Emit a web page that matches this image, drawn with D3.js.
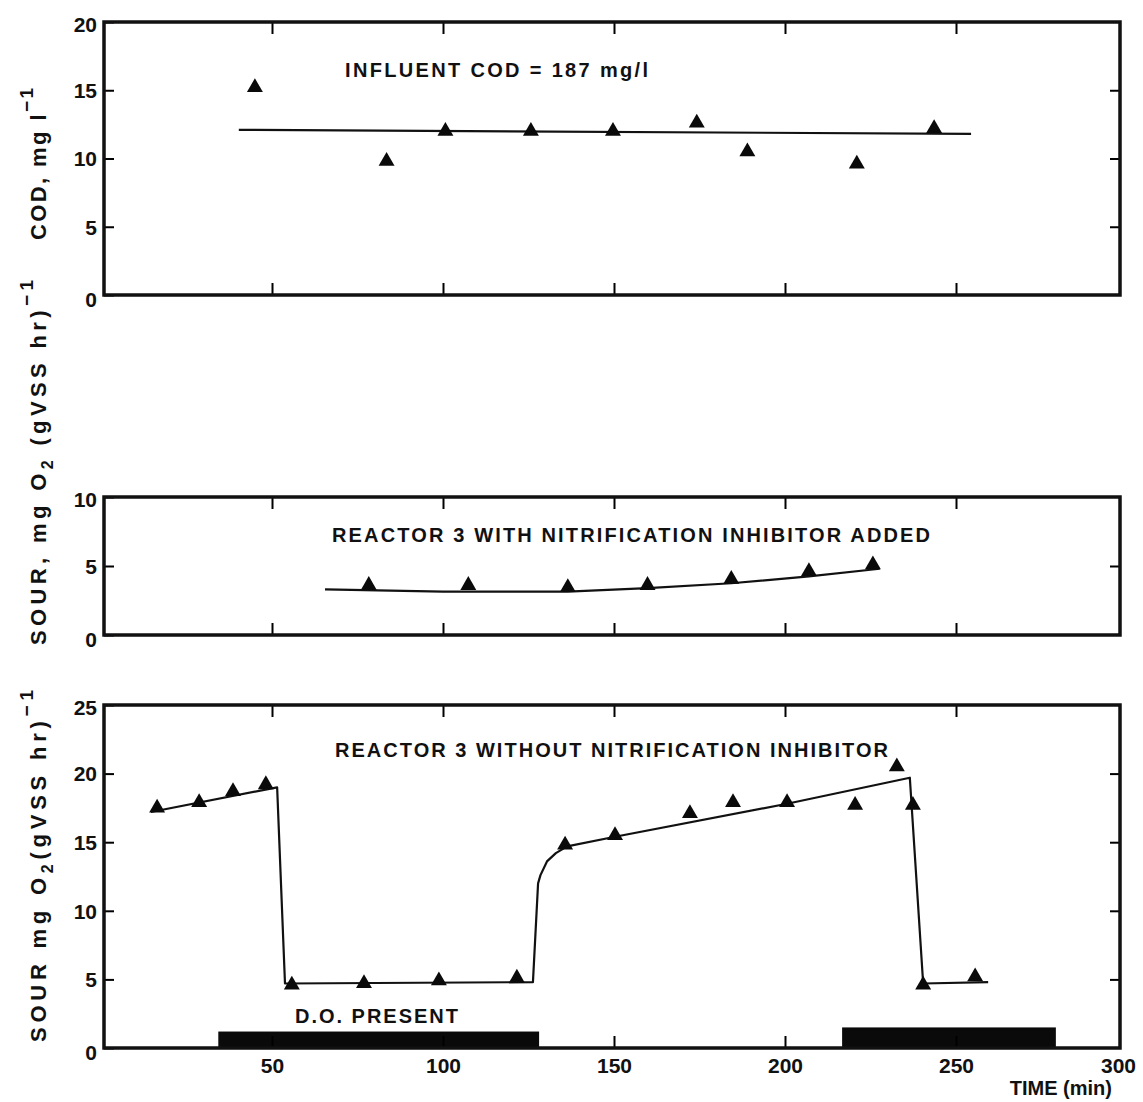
<!DOCTYPE html>
<html>
<head>
<meta charset="utf-8">
<script src="https://cdn.jsdelivr.net/npm/d3@7"></script>
<style>
  body { margin: 0; background: #fff; }
  svg text { font-family: "Liberation Sans", Arial, Helvetica, sans-serif; font-weight: bold; fill: #111; }
</style>
</head>
<body>
<svg id="chart" width="1143" height="1102"></svg>
<script>
// time axis (min)
var timeTicks = [50, 100, 150, 200, 250, 300];

// top panel: effluent COD, mg/l (influent 187 mg/l)
var codTime  = [45.0, 83.5, 100.7, 125.7, 149.7, 174.2, 189.0, 221.0, 243.6];
var codValue = [15.2, 9.8, 12.0, 12.0, 12.0, 12.6, 10.5, 9.6, 12.2];
var codFitTime  = [40.3, 254.4];
var codFitValue = [12.1, 11.8];

// middle panel: SOUR, reactor 3 with nitrification inhibitor
var inhTime  = [78.3, 107.4, 136.5, 159.8, 184.3, 207.0, 225.7];
var inhValue = [3.6, 3.6, 3.45, 3.6, 4.05, 4.6, 5.1];
var inhFitTime  = [65.5, 100, 136.5, 159.8, 184.3, 207.0, 227.7];
var inhFitValue = [3.3, 3.15, 3.15, 3.4, 3.75, 4.25, 4.8];

// bottom panel: SOUR, reactor 3 without inhibitor
var noInhTime  = [16.4, 28.7, 38.6, 48.2, 55.8, 76.9, 98.8, 121.6, 135.7, 150.3, 172.2, 184.8, 200.6, 220.5, 232.7, 237.4, 240.4, 255.6];
var noInhValue = [17.5, 17.9, 18.7, 19.2, 4.6, 4.7, 4.9, 5.1, 14.8, 15.5, 17.1, 17.9, 17.9, 17.7, 20.5, 17.7, 4.6, 5.2];
var noInhFitTime  = [14.6, 51.5, 53.8, 126.3, 127.8, 128.5, 130.4, 133.0, 136.3, 150.3, 200.6, 236.5, 240.4, 259.4];
var noInhFitValue = [17.2, 19.0, 4.7, 4.8, 12.0, 12.6, 13.6, 14.2, 14.7, 15.4, 17.8, 19.7, 4.7, 4.8];

// periods with D.O. present (black bars)
var doStart = [34.3, 216.7];
var doEnd   = [128.1, 279.2];
var doLevel = [1.2, 1.5];

function zip(a, b) { return a.map(function(v, i) { return [v, b[i]]; }); }

var svg = d3.select("#chart");
var left = 104, right = 1120;

var x = d3.scaleLinear().domain([0, 300]).range([101, 1127]);

var panels = [
  {top: 22, bottom: 295, max: 20, yTicks: [0, 5, 10, 15, 20], pts: zip(codTime, codValue), fit: zip(codFitTime, codFitValue)},
  {top: 497, bottom: 635, max: 10, yTicks: [0, 5, 10], pts: zip(inhTime, inhValue), fit: zip(inhFitTime, inhFitValue)},
  {top: 705, bottom: 1048, max: 25, yTicks: [0, 5, 10, 15, 20, 25], pts: zip(noInhTime, noInhValue), fit: zip(noInhFitTime, noInhFitValue), labels: true}
];

panels.forEach(function(p) {
  var y = d3.scaleLinear().domain([0, p.max]).range([p.bottom, p.top]);
  var g = svg.append("g");

  // D.O. bars sit under the frame line
  if (p.labels) {
    g.selectAll("rect.do")
      .data(doStart.map(function(s, i) { return {s: s, e: doEnd[i], h: doLevel[i]}; }))
      .enter().append("rect")
      .attr("class", "do")
      .attr("x", function(d) { return x(d.s); })
      .attr("width", function(d) { return x(d.e) - x(d.s); })
      .attr("y", function(d) { return y(d.h); })
      .attr("height", function(d) { return y(0) - y(d.h); })
      .attr("fill", "#0a0a0a");
  }

  // left axis with inward ticks
  var ya = g.append("g")
    .attr("transform", "translate(" + left + ",0)")
    .call(d3.axisLeft(y).tickValues(p.yTicks).tickSize(-10).tickPadding(7));
  ya.select(".domain").remove();
  ya.selectAll("line").attr("stroke-width", 2);
  ya.selectAll("text")
    .attr("font-size", 21)
    .attr("dy", function(d) { return d === 0 ? "0.55em" : (d === p.max ? "0.45em" : "0.35em"); });

  // right side ticks
  var yr = g.append("g")
    .attr("transform", "translate(" + right + ",0)")
    .call(d3.axisRight(y).tickValues(p.yTicks.slice(1, -1)).tickSize(-10).tickFormat(""));
  yr.select(".domain").remove();
  yr.selectAll("line").attr("stroke-width", 2);

  // top ticks
  var xt = g.append("g")
    .attr("transform", "translate(0," + p.top + ")")
    .call(d3.axisTop(x).tickValues(timeTicks.slice(0, -1)).tickSize(-12).tickFormat(""));
  xt.select(".domain").remove();
  xt.selectAll("line").attr("stroke-width", 2);

  // bottom ticks (labels only on the lowest panel)
  var xb = g.append("g")
    .attr("transform", "translate(0," + p.bottom + ")")
    .call(d3.axisBottom(x).tickValues(timeTicks).tickSize(-12).tickPadding(10)
      .tickFormat(p.labels ? d3.format("d") : ""));
  xb.select(".domain").remove();
  xb.selectAll("line").attr("stroke-width", 2)
    .filter(function(d) { return d === 300; }).remove();
  xb.selectAll("text").attr("font-size", 21)
    .filter(function(d) { return d === 300; }).attr("dx", -9);

  // frame
  g.append("rect")
    .attr("x", left).attr("y", p.top)
    .attr("width", right - left).attr("height", p.bottom - p.top)
    .attr("fill", "none").attr("stroke", "#111").attr("stroke-width", 3.5);

  // fitted line
  g.append("path")
    .datum(p.fit)
    .attr("fill", "none")
    .attr("stroke", "#111")
    .attr("stroke-width", 2.2)
    .attr("stroke-linejoin", "round")
    .attr("d", d3.line().x(function(d) { return x(d[0]); }).y(function(d) { return y(d[1]); }));

  // measured points
  g.selectAll("path.pt")
    .data(p.pts)
    .enter().append("path")
    .attr("class", "pt")
    .attr("transform", function(d) { return "translate(" + x(d[0]) + "," + y(d[1]) + ")"; })
    .attr("d", d3.symbol().type(d3.symbolTriangle).size(110))
    .attr("fill", "#0a0a0a");
});

// annotations
function note(txt, px, py, len) {
  svg.append("text")
    .attr("x", px).attr("y", py)
    .attr("font-size", 20)
    .attr("textLength", len).attr("lengthAdjust", "spacing")
    .text(txt);
}
note("INFLUENT COD = 187 mg/l", 345, 77, 303);
note("REACTOR 3 WITH NITRIFICATION INHIBITOR ADDED", 332, 542, 598);
note("REACTOR 3 WITHOUT NITRIFICATION INHIBITOR", 335, 757, 553);
note("D.O. PRESENT", 295, 1023, 163);

svg.append("text")
  .attr("x", 1112).attr("y", 1095)
  .attr("text-anchor", "end")
  .attr("font-size", 20)
  .text("TIME (min)");

// rotated y titles
function yTitle(parts, px, py, len) {
  var t = svg.append("text")
    .attr("transform", "translate(" + px + "," + py + ") rotate(-90)")
    .attr("font-size", 22)
    .attr("textLength", len).attr("lengthAdjust", "spacing");
  parts.forEach(function(s) {
    var ts = t.append("tspan").text(s.t);
    if (s.dy) ts.attr("dy", s.dy);
    if (s.fs) ts.attr("font-size", s.fs);
  });
}
yTitle([{t: "COD, mg l"}, {t: "\u22121", dy: -13, fs: 19}], 46, 240, 152);
yTitle([{t: "SOUR, mg O"}, {t: "2", dy: 7, fs: 16}, {t: " (gVSS hr)", dy: -7}, {t: "\u22121", dy: -13, fs: 19}], 46, 645, 365);
yTitle([{t: "SOUR  mg O"}, {t: "2", dy: 7, fs: 16}, {t: "(gVSS hr)", dy: -7}, {t: "\u22121", dy: -13, fs: 19}], 46, 1042, 352);
</script>
</body>
</html>
